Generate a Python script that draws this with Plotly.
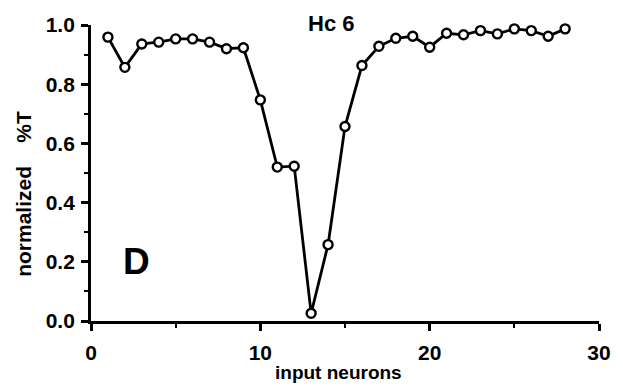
import plotly.graph_objects as go

# Normalized transmission (%T) per input neuron
neurons = list(range(1, 29))
norm_t = [0.959, 0.857, 0.936, 0.942, 0.953, 0.953, 0.942, 0.920, 0.923, 0.747,
          0.520, 0.523, 0.026, 0.258, 0.657, 0.863, 0.928, 0.955, 0.962, 0.925,
          0.972, 0.967, 0.981, 0.970, 0.987, 0.981, 0.962, 0.987]

x_ticks = [0, 10, 20, 30]
y_ticks = [0.0, 0.2, 0.4, 0.6, 0.8, 1.0]
y_tick_text = ["0.0", "0.2", "0.4", "0.6", "0.8", "1.0"]

FONT = "Liberation Sans, Arial, sans-serif"

fig = go.Figure()
fig.add_trace(go.Scatter(
    x=neurons, y=norm_t, mode="lines+markers",
    line=dict(color="black", width=2.8),
    marker=dict(symbol="circle", size=9, color="white",
                line=dict(color="black", width=2.4)),
    cliponaxis=False, showlegend=False,
))

fig.update_layout(
    width=623, height=386,
    margin=dict(l=91, r=12, t=25, b=65, pad=0),
    paper_bgcolor="white", plot_bgcolor="white",
    font=dict(family=FONT, color="black"),
    xaxis=dict(
        range=[0, 30], tickvals=x_ticks, ticktext=[str(v) for v in x_ticks],
        showline=True, linecolor="black", linewidth=2.8,
        ticks="outside", ticklen=7, tickwidth=2.5, tickcolor="black",
        minor=dict(tickvals=[5, 15, 25], ticks="outside", ticklen=4,
                   tickwidth=2, tickcolor="black"),
        tickfont=dict(family=FONT, size=21, color="black", weight="bold"),
        ticklabelstandoff=4,
        showgrid=False, zeroline=False,
    ),
    yaxis=dict(
        range=[0, 1.0], tickvals=y_ticks, ticktext=y_tick_text,
        showline=True, linecolor="black", linewidth=2.8,
        ticks="outside", ticklen=7, tickwidth=2.5, tickcolor="black",
        minor=dict(tickvals=[0.1, 0.3, 0.5, 0.7, 0.9], ticks="outside",
                   ticklen=4, tickwidth=2, tickcolor="black"),
        tickfont=dict(family=FONT, size=21, color="black", weight="bold"),
        ticklabelstandoff=2,
        showgrid=False, zeroline=False,
    ),
)

fig.add_annotation(
    text="Hc 6", xref="paper", yref="paper", x=0.473, y=1.005,
    xanchor="center", yanchor="middle", showarrow=False,
    font=dict(family=FONT, size=22, color="black", weight="bold"),
)
fig.add_annotation(
    text="D", xref="x", yref="y", x=2.7, y=0.2,
    xanchor="center", yanchor="middle", showarrow=False,
    font=dict(family=FONT, size=37, color="black", weight="bold"),
)
fig.add_annotation(
    text="input neurons", xref="paper", yref="paper", x=0.488, y=-0.174,
    xanchor="center", yanchor="middle", showarrow=False,
    font=dict(family=FONT, size=19, color="black", weight="bold"),
)
fig.add_annotation(
    text="normalized\u00a0\u00a0\u00a0\u00a0%T", xref="paper", yref="paper",
    x=-0.133, y=0.431, textangle=-90,
    xanchor="center", yanchor="middle", showarrow=False,
    font=dict(family=FONT, size=21, color="black", weight="bold"),
)

fig.write_html("out.html")
